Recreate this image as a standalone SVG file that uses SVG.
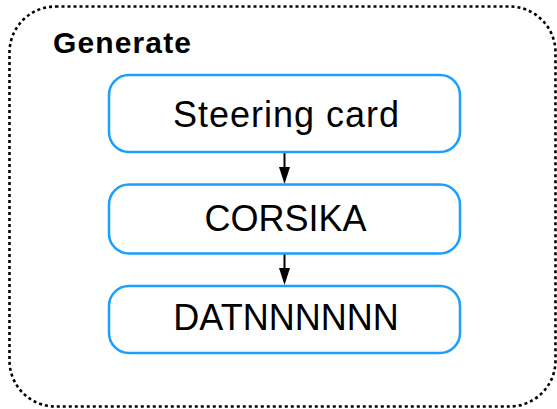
<svg xmlns="http://www.w3.org/2000/svg" width="557" height="409" viewBox="0 0 557 409">
<defs>
<style>
.outer{fill:none;stroke:#000;stroke-width:2.6;stroke-dasharray:3 3}
.box{fill:#fff;stroke:#1a9fff;stroke-width:2.5}
.lbl{font-family:"Liberation Sans",Arial,Helvetica,sans-serif;font-size:36px;fill:#000;text-anchor:middle}
.title{font-family:"Liberation Sans",Arial,Helvetica,sans-serif;font-size:30px;font-weight:bold;fill:#000}
.conn{stroke:#000;stroke-width:2;fill:none}
</style>
</defs>
<g id="generate">
<rect class="outer" x="9.5" y="6.5" width="546" height="400" rx="46" ry="46"/>
<text class="title" x="53" y="52.5" textLength="138" lengthAdjust="spacing">Generate</text>
</g>
<g id="connectors">
<line class="conn" x1="284.5" y1="153" x2="284.5" y2="168"/>
<path d="M279,167 L290,167 L284.5,184 Z" fill="#000"/>
<line class="conn" x1="284.5" y1="254" x2="284.5" y2="269"/>
<path d="M279,268 L290,268 L284.5,285 Z" fill="#000"/>
</g>
<g id="steering">
<rect class="box" x="109" y="75" width="351" height="77" rx="20" ry="20"/>
<text class="lbl" x="286" y="127" textLength="226" lengthAdjust="spacing">Steering card</text>
</g>
<g id="corsika">
<rect class="box" x="109" y="184.5" width="351" height="69" rx="20" ry="20"/>
<text class="lbl" x="285.5" y="231">CORSIKA</text>
</g>
<g id="datnnnnnn">
<rect class="box" x="109" y="286" width="351" height="67" rx="20" ry="20"/>
<text class="lbl" x="286" y="330">DATNNNNNN</text>
</g>
</svg>
